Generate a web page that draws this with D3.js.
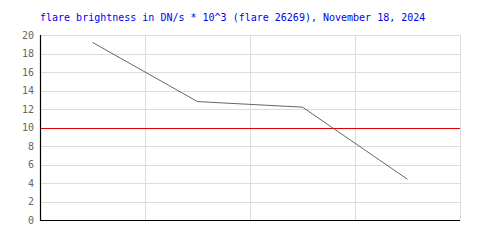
<!DOCTYPE html>
<html>
<head>
<meta charset="utf-8">
<script src="https://cdn.jsdelivr.net/npm/d3@7"></script>
<style>
  body { margin: 0; background: #fff; }
</style>
</head>
<body>
<div id="chart"></div>
<script>
var width = 500;
var height = 250;

// data
var categories = ["p1", "p2", "p3", "p4"];
var values = [19.2, 12.8, 12.2, 4.4];
var yTicks = [0, 2, 4, 6, 8, 10, 12, 14, 16, 18, 20];
var threshold = 10;
var title = "flare brightness in DN/s * 10^3 (flare 26269), November 18, 2024";

var rangeX = [40, 460];
var rangeY = [220, 35];

var svg = d3.select("#chart")
  .append("svg")
  .attr("width", width)
  .attr("height", height);

var x = d3.scaleBand().domain(categories).range(rangeX);
var y = d3.scaleLinear().domain([0, 20]).range(rangeY);

// horizontal grid
svg.append("g")
  .selectAll("line")
  .data(yTicks)
  .enter().append("line")
  .attr("x1", rangeX[0]).attr("x2", rangeX[1])
  .attr("y1", function(d) { return Math.round(y(d)) + 0.5; })
  .attr("y2", function(d) { return Math.round(y(d)) + 0.5; })
  .attr("stroke", "#dcdcdc");

// vertical grid at band edges
var edges = categories.map(function(c) { return x(c) + x.bandwidth(); });
svg.append("g")
  .selectAll("line")
  .data(edges)
  .enter().append("line")
  .attr("x1", function(d) { return Math.round(d) + 0.5; })
  .attr("x2", function(d) { return Math.round(d) + 0.5; })
  .attr("y1", rangeY[1]).attr("y2", rangeY[0])
  .attr("stroke", "#dcdcdc");

// y tick labels
svg.append("g")
  .selectAll("text")
  .data(yTicks)
  .enter().append("text")
  .attr("x", 34)
  .attr("y", function(d) { return y(d) + 3.5; })
  .attr("text-anchor", "end")
  .attr("font-family", "DejaVu Sans Mono, monospace")
  .attr("font-size", "10px")
  .attr("fill", "#666")
  .text(function(d) { return d; });

// threshold line
svg.append("line")
  .attr("x1", rangeX[0]).attr("x2", rangeX[1])
  .attr("y1", Math.round(y(threshold)) + 0.5)
  .attr("y2", Math.round(y(threshold)) + 0.5)
  .attr("stroke", "#e00000");

// axes
svg.append("path")
  .attr("d", "M" + (rangeX[0] + 0.5) + "," + rangeY[1] + "V" + (rangeY[0] + 0.5) + "H" + rangeX[1])
  .attr("fill", "none")
  .attr("stroke", "#000")
  .attr("stroke-width", 1.2);

// data line
var line = d3.line()
  .x(function(d, i) { return x(categories[i]) + x.bandwidth() / 2; })
  .y(function(d) { return y(d); });

svg.append("path")
  .datum(values)
  .attr("d", line)
  .attr("fill", "none")
  .attr("stroke", "#555")
  .attr("stroke-width", 0.9);

// title
svg.append("text")
  .attr("x", 40)
  .attr("y", 21)
  .attr("font-family", "DejaVu Sans Mono, monospace")
  .attr("font-size", "10px")
  .attr("fill", "#0000ee")
  .text(title);
</script>
</body>
</html>
